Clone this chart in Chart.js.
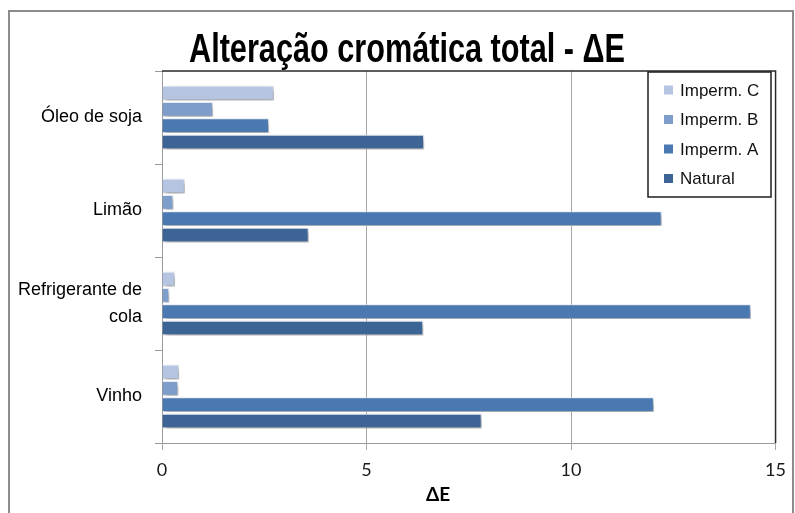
<!DOCTYPE html>
<html>
<head>
<meta charset="utf-8">
<script src="https://cdn.jsdelivr.net/npm/chart.js@4/dist/chart.umd.min.js"></script>
<style>
  html, body { margin: 0; padding: 0; background: #fff; }
  #wrap { width: 795px; height: 513px; }
</style>
</head>
<body>
<div id="wrap"><canvas id="c" width="795" height="513"></canvas></div>
<script>
// Categories (top to bottom) and the ΔE value of each sample type
const categories = ['Óleo de soja', 'Limão', ['Refrigerante de', 'cola'], 'Vinho'];
const impermC = [2.74, 0.56, 0.32, 0.42];
const impermB = [1.25, 0.28, 0.18, 0.40];
const impermA = [2.62, 12.22, 14.40, 12.03];
const natural = [6.41, 3.59, 6.39, 7.82];
const xTicks = [0, 5, 10, 15];

const seriesNames = ['Imperm. C', 'Imperm. B', 'Imperm. A', 'Natural'];
const seriesColors = ['#b4c4e1', '#7f9dcb', '#4a78b1', '#3c6495'];
const seriesValues = [impermC, impermB, impermA, natural];

const chartTitle = 'Alteração cromática total - ΔE';
const xTitle = 'ΔE';

// Draws text squeezed horizontally to a given width (condensed look)
function condensedText(ctx, text, cx, y, width) {
  const w = ctx.measureText(text).width;
  const sx = Math.min(1, width / w);
  ctx.save();
  ctx.translate(cx, y);
  ctx.scale(sx, 1);
  ctx.textAlign = 'center';
  ctx.fillText(text, 0, 0);
  ctx.restore();
}

// Frame, chart title, axis title, plot border and legend box
const decorations = {
  id: 'decorations',
  beforeDraw(chart) {
    const ctx = chart.ctx;
    ctx.save();
    ctx.fillStyle = '#fff';
    ctx.fillRect(0, 0, chart.width, chart.height);
    ctx.strokeStyle = '#8c8c8c';
    ctx.lineWidth = 2;
    ctx.strokeRect(9, 11, 784, 520);
    ctx.restore();
  },
  beforeDatasetsDraw(chart) {
    const ctx = chart.ctx;
    ctx.save();
    ctx.shadowColor = 'rgba(0,0,0,0.35)';
    ctx.shadowBlur = 5;
    ctx.shadowOffsetX = 2;
    ctx.shadowOffsetY = 3;
  },
  afterDatasetsDraw(chart) {
    chart.ctx.restore();
  },
  afterDraw(chart) {
    const ctx = chart.ctx;
    const a = chart.chartArea;
    ctx.save();
    // top and right edges of the plot area
    ctx.strokeStyle = '#2a2a2a';
    ctx.lineWidth = 1.5;
    ctx.beginPath();
    ctx.moveTo(a.left, a.top);
    ctx.lineTo(a.right, a.top);
    ctx.lineTo(a.right, a.bottom);
    ctx.stroke();

    // chart title
    ctx.fillStyle = '#000';
    ctx.textBaseline = 'alphabetic';
    ctx.font = 'bold 40px "Liberation Sans", Arial, sans-serif';
    condensedText(ctx, chartTitle, 407, 62, 436);

    // value axis title
    ctx.font = 'bold 19px Lato, "Liberation Sans", sans-serif';
    ctx.textAlign = 'center';
    ctx.textBaseline = 'middle';
    ctx.fillText(xTitle, 438, 495);

    // legend
    const lx = 648, ly = 72, lw = 123, lh = 125;
    ctx.fillStyle = '#fff';
    ctx.fillRect(lx, ly, lw, lh);
    ctx.strokeStyle = '#1e1e1e';
    ctx.lineWidth = 1.5;
    ctx.strokeRect(lx, ly, lw, lh);
    ctx.font = '17px "Liberation Sans", Arial, sans-serif';
    ctx.textAlign = 'left';
    chart.data.datasets.forEach((ds, i) => {
      const y = 90 + i * 29.5;
      ctx.fillStyle = ds.backgroundColor;
      ctx.fillRect(664, y - 4.5, 9, 9);
      ctx.fillStyle = '#111';
      ctx.fillText(ds.label, 680, y + 1);
    });
    ctx.restore();
  }
};

new Chart(document.getElementById('c'), {
  type: 'bar',
  data: {
    labels: categories,
    datasets: seriesNames.map((name, i) => ({
      label: name,
      data: seriesValues[i],
      backgroundColor: seriesColors[i],
      borderColor: 'rgba(235,240,248,0.95)',
      borderWidth: 1.2,
      categoryPercentage: 0.7,
      barPercentage: 0.92
    }))
  },
  options: {
    indexAxis: 'y',
    responsive: false,
    animation: false,
    layout: { padding: { top: 71, right: 19, left: 0, bottom: 0 } },
    plugins: {
      legend: { display: false },
      title: { display: false },
      tooltip: { enabled: false }
    },
    scales: {
      x: {
        min: 0,
        max: 15,
        afterBuildTicks(scale) { scale.ticks = xTicks.map(v => ({ value: v })); },
        afterFit(scale) { scale.height = 70; },
        grid: { color: '#a6a6a6', lineWidth: 1, tickLength: 7, drawTicks: true },
        border: { display: true, color: '#9a9a9a', width: 1 },
        ticks: {
          padding: 9,
          color: '#1a1a1a',
          font: { family: 'Lato, "Liberation Sans", sans-serif', size: 18 }
        }
      },
      y: {
        afterFit(scale) { scale.width = 162; },
        grid: { drawOnChartArea: false, tickLength: 7, color: '#9a9a9a', offset: true },
        border: { display: true, color: '#9a9a9a', width: 1 },
        ticks: {
          padding: 13,
          color: '#000',
          font: { family: '"Liberation Sans", Arial, sans-serif', size: 18, lineHeight: 1.45 }
        }
      }
    }
  },
  plugins: [decorations]
});
</script>
</body>
</html>
